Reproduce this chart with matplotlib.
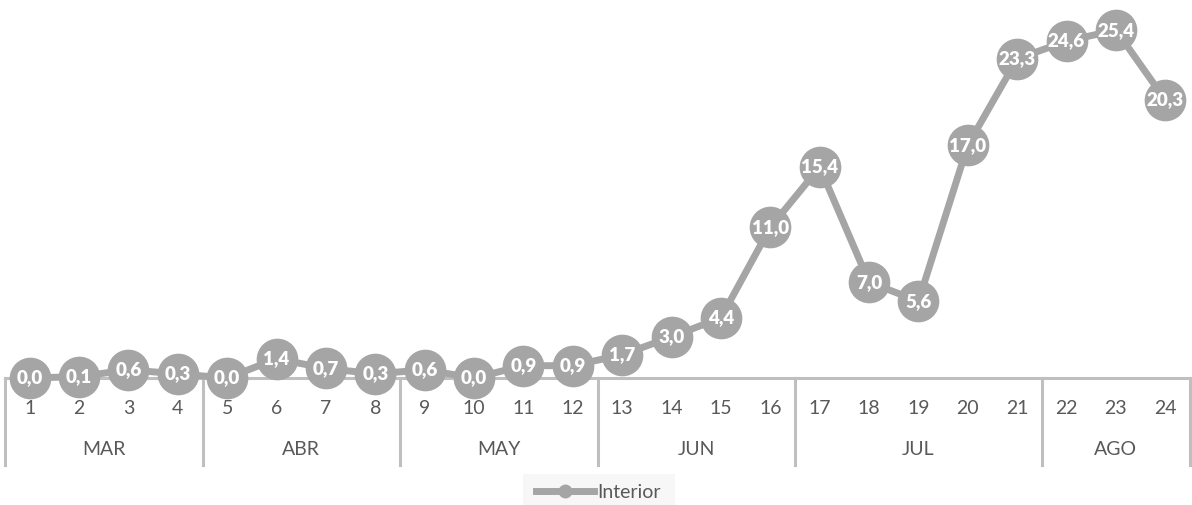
import matplotlib
matplotlib.use("Agg")
import matplotlib.pyplot as plt
from matplotlib.lines import Line2D

plt.rcParams["font.family"] = ["Lato", "DejaVu Sans"]

# ── data ───────────────────────────────────────────────────────────
days = [str(i) for i in range(1, 25)]
values = [0.0, 0.1, 0.6, 0.3, 0.0, 1.4, 0.7, 0.3, 0.6, 0.0, 0.9, 0.9,
          1.7, 3.0, 4.4, 11.0, 15.4, 7.0, 5.6, 17.0, 23.3, 24.6, 25.4, 20.3]
months = ["MAR", "ABR", "MAY", "JUN", "JUL", "AGO"]
month_sizes = [4, 4, 4, 4, 5, 3]

GREY = "#A5A5A5"
AXIS = "#BFBFBF"
TEXT = "#595959"

fig = plt.figure(figsize=(11.92, 5.05), dpi=100)
ax = fig.add_axes([5 / 1192, 127 / 505, 1185 / 1192, 378 / 505])

x = list(range(len(values)))
ax.plot(x, values, color=GREY, lw=5, marker="o", ms=29,
        mfc=GREY, mec=GREY, clip_on=False, zorder=3)
for xi, v in zip(x, values):
    ax.text(xi, v, f"{v:.1f}".replace(".", ","), ha="center", va="center",
            color="white", fontsize=13.5, fontweight="heavy", zorder=4)

ax.set_xlim(-0.5, len(values) - 0.5)
ax.set_ylim(0, 27.6)
ax.axis("off")

# category axis line
ax.plot([-0.5, len(values) - 0.5], [0, 0], color=AXIS, lw=2.2,
        clip_on=False, zorder=1)

# day labels
for xi, d in zip(x, days):
    ax.text(xi, -0.082, d, transform=ax.get_xaxis_transform(), ha="center",
            va="center", fontsize=14, color=TEXT)

# month groups + separators
start = 0
bounds = [-0.5]
for m, n in zip(months, month_sizes):
    mid = start + (n - 1) / 2
    ax.text(mid, -0.19, m, transform=ax.get_xaxis_transform(), ha="center",
            va="center", fontsize=14, color=TEXT)
    start += n
    bounds.append(start - 0.5)
for b in bounds:
    ax.plot([b, b], [0, -0.23], transform=ax.get_xaxis_transform(),
            color=AXIS, lw=2.2, clip_on=False, zorder=1)

# legend
fig.patches.append(plt.Rectangle((523 / 1192, 0), 152 / 1192, 31 / 505,
                                 transform=fig.transFigure,
                                 facecolor="#F7F7F7", edgecolor="none"))
handle = Line2D([], [], color=GREY, lw=5, marker="o", ms=9, mfc=GREY, mec=GREY)
fig.legend([handle], ["Interior"], loc="center", bbox_to_anchor=(598 / 1192, 13 / 505),
           frameon=False, fontsize=14, labelcolor=TEXT, handlelength=3.0,
           handletextpad=0.15)

fig.savefig("out.png", dpi=100)
